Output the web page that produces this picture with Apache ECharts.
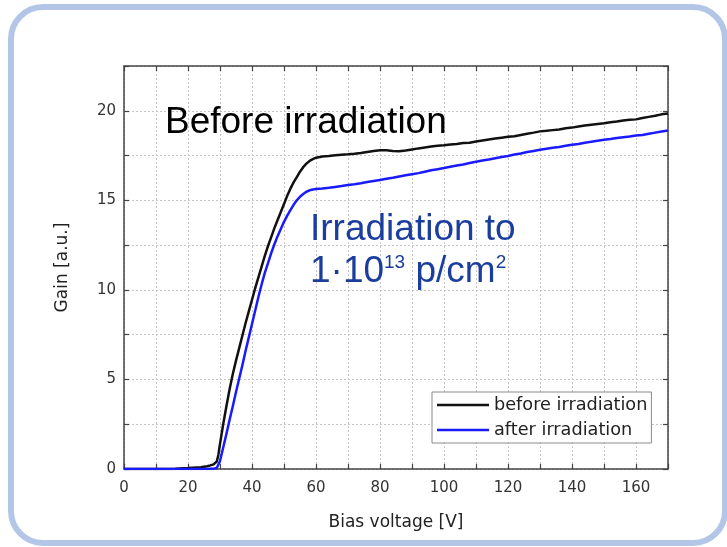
<!DOCTYPE html>
<html>
<head>
<meta charset="utf-8">
<script src="https://cdn.jsdelivr.net/npm/echarts@6/dist/echarts.min.js"></script>
<style>
  html, body { margin: 0; padding: 0; background: #ffffff; }
  #chart { width: 727px; height: 547px; }
</style>
</head>
<body>
<div id="chart"></div>
<script>
// Bias voltage sweep [V]
const biasVoltage = [
  0, 10, 16, 20, 24, 26, 27, 28, 28.5, 29, 29.5, 30,
  31, 32, 33, 34, 35, 36, 37, 38, 39, 40, 41, 42, 43, 44, 45, 46, 47, 48, 49, 50,
  51, 52, 53, 54, 55, 56, 57, 58, 59, 60,
  62, 64, 66, 68, 70, 72, 74, 76, 78, 80, 82, 84, 86, 88, 90, 92, 94, 96, 98, 100,
  102, 104, 106, 108, 110, 112, 114, 116, 118, 120, 122, 124, 126, 128, 130,
  132, 134, 136, 138, 140, 142, 144, 146, 148, 150, 152, 154, 156, 158, 160,
  162, 164, 166, 168, 170
];

// Gain before irradiation [a.u.]
const gainBefore = [
  0, 0, 0.02, 0.05, 0.1, 0.15, 0.2, 0.26, 0.32, 0.42, 0.8, 1.4,
  2.5, 3.5, 4.45, 5.3, 6.05, 6.75, 7.45, 8.15, 8.8, 9.45, 10.1, 10.7, 11.3, 11.9, 12.45, 12.95, 13.45, 13.9, 14.35, 14.8,
  15.25, 15.65, 16.0, 16.3, 16.6, 16.85, 17.05, 17.2, 17.3, 17.38,
  17.45, 17.48, 17.52, 17.55, 17.57, 17.6, 17.64, 17.7, 17.76, 17.8, 17.8, 17.76, 17.74, 17.78, 17.84, 17.9, 17.95, 18.0, 18.05, 18.08,
  18.12, 18.15, 18.2, 18.22, 18.28, 18.34, 18.4, 18.45, 18.5, 18.55, 18.58, 18.65, 18.72, 18.78, 18.85,
  18.88, 18.92, 18.96, 19.02, 19.06, 19.12, 19.18, 19.22, 19.26, 19.3, 19.36, 19.4, 19.46, 19.5, 19.52,
  19.6, 19.66, 19.72, 19.8, 19.85
];

// Gain after irradiation to 1e13 p/cm^2 [a.u.]
const gainAfter = [
  0, 0, 0, 0, 0, 0, 0.01, 0.02, 0.03, 0.05, 0.15, 0.45,
  1.2, 1.95, 2.75, 3.5, 4.3, 5.05, 5.8, 6.6, 7.35, 8.1, 8.85, 9.6, 10.3, 10.95, 11.5, 12.05, 12.55, 13.0, 13.4, 13.8,
  14.15, 14.45, 14.75, 15.0, 15.2, 15.35, 15.48, 15.56, 15.6, 15.63,
  15.66, 15.7, 15.75, 15.8, 15.86, 15.9, 15.95, 16.02, 16.08, 16.14, 16.2, 16.26, 16.33, 16.4, 16.46, 16.52, 16.6, 16.68, 16.74, 16.8,
  16.87, 16.94, 17.0, 17.08, 17.15, 17.22, 17.28, 17.35, 17.42, 17.48, 17.56, 17.62, 17.7, 17.76, 17.82,
  17.88, 17.93, 17.98, 18.05, 18.1, 18.15, 18.22, 18.27, 18.33, 18.38, 18.42, 18.48, 18.52, 18.56, 18.62,
  18.65, 18.72, 18.78, 18.84, 18.9
];

const seriesNames = ['before irradiation', 'after irradiation'];
const xLabelStep = 20;   // labelled every 20 V, ticks every 10 V
const yLabelStep = 5;    // labelled every 5, ticks every 2.5

const toPairs = (xs, ys) => xs.map((x, i) => [x, ys[i]]);

const axisColor = '#444';
const gridLineStyle = { color: '#c4c4c4', width: 1, type: [2, 2] };
const labelFont = { fontFamily: 'DejaVu Sans', fontSize: 15, color: '#333' };
const nameFont = { fontFamily: 'DejaVu Sans', fontSize: 17, color: '#222' };
const blueText = '#1b3d9e';

const chart = echarts.init(document.getElementById('chart'), null, { renderer: 'canvas' });

chart.setOption({
  backgroundColor: '#ffffff',
  animation: false,
  grid: { left: 124, right: 59, top: 66, bottom: 78 },
  legend: {
    data: seriesNames,
    orient: 'vertical',
    left: 432,
    top: 392,
    icon: 'rect',
    itemWidth: 52,
    itemHeight: 2.5,
    itemGap: 5,
    padding: [3, 4, 3, 5],
    backgroundColor: '#ffffff',
    borderColor: '#8a8a8a',
    borderWidth: 1,
    borderRadius: 0,
    textStyle: { fontFamily: 'DejaVu Sans', fontSize: 17.7, color: '#222', lineHeight: 20 }
  },
  xAxis: [
    {
      type: 'value', position: 'bottom', min: 0, max: 170, interval: 10,
      name: 'Bias voltage [V]', nameLocation: 'middle', nameGap: 45, nameTextStyle: nameFont,
      axisLine: { show: true, onZero: false, lineStyle: { color: axisColor, width: 1.5 } },
      axisTick: { show: true, inside: true, length: 5, lineStyle: { color: axisColor, width: 1.2 } },
      axisLabel: Object.assign({ margin: 12, formatter: v => (v % xLabelStep === 0 ? String(v) : '') }, labelFont),
      splitLine: { show: true, lineStyle: gridLineStyle }
    },
    {
      type: 'value', position: 'top', min: 0, max: 170, interval: 10,
      axisLine: { show: true, onZero: false, lineStyle: { color: axisColor, width: 1.5 } },
      axisTick: { show: true, inside: true, length: 5, lineStyle: { color: axisColor, width: 1.2 } },
      axisLabel: { show: false },
      splitLine: { show: false }
    }
  ],
  yAxis: [
    {
      type: 'value', position: 'left', min: 0, max: 22.5, interval: 2.5,
      name: 'Gain [a.u.]', nameLocation: 'middle', nameGap: 53, nameTextStyle: nameFont,
      axisLine: { show: true, onZero: false, lineStyle: { color: axisColor, width: 1.5 } },
      axisTick: { show: true, inside: true, length: 5, lineStyle: { color: axisColor, width: 1.2 } },
      axisLabel: Object.assign({ margin: 8, formatter: v => (v % yLabelStep === 0 ? String(v) : '') }, labelFont),
      splitLine: { show: true, lineStyle: gridLineStyle }
    },
    {
      type: 'value', position: 'right', min: 0, max: 22.5, interval: 2.5,
      axisLine: { show: true, onZero: false, lineStyle: { color: axisColor, width: 1.5 } },
      axisTick: { show: true, inside: true, length: 5, lineStyle: { color: axisColor, width: 1.2 } },
      axisLabel: { show: false },
      splitLine: { show: false }
    }
  ],
  series: [
    {
      name: seriesNames[0], type: 'line', xAxisIndex: 0, yAxisIndex: 0,
      data: toPairs(biasVoltage, gainBefore),
      showSymbol: false, symbol: 'none', smooth: false,
      color: '#111111',
      lineStyle: { color: '#111111', width: 2.5, join: 'round' },
      z: 3
    },
    {
      name: seriesNames[1], type: 'line', xAxisIndex: 0, yAxisIndex: 0,
      data: toPairs(biasVoltage, gainAfter),
      showSymbol: false, symbol: 'none', smooth: false,
      color: '#1a1aff',
      lineStyle: { color: '#1a1aff', width: 2.5, join: 'round' },
      z: 4
    }
  ],
  graphic: [
    {
      type: 'rect', silent: true, z: 100,
      shape: { x: 11, y: 7, width: 714, height: 536, r: 32 },
      style: { fill: 'none', stroke: '#b4c6e7', lineWidth: 6 }
    },
    {
      type: 'text', silent: true, z: 100,
      style: {
        x: 165, y: 123, text: 'Before irradiation',
        font: '37px "Liberation Sans"', fill: '#000000',
        verticalAlign: 'middle', align: 'left'
      }
    },
    {
      type: 'text', silent: true, z: 100,
      style: {
        x: 310, y: 230, text: 'Irradiation to',
        font: '37px "Liberation Sans"', fill: blueText,
        verticalAlign: 'middle', align: 'left'
      }
    },
    {
      type: 'text', silent: true, z: 100,
      style: {
        x: 310, y: 253, text: '{n|1·10}{s|13}{n| p/cm}{s|2}',
        verticalAlign: 'top', align: 'left',
        rich: {
          n: { fontFamily: 'Liberation Sans', fontSize: 37, fill: blueText, lineHeight: 37 },
          s: { fontFamily: 'Liberation Sans', fontSize: 19, fill: blueText, lineHeight: 32, verticalAlign: 'top' }
        }
      }
    }
  ]
});
</script>
</body>
</html>
